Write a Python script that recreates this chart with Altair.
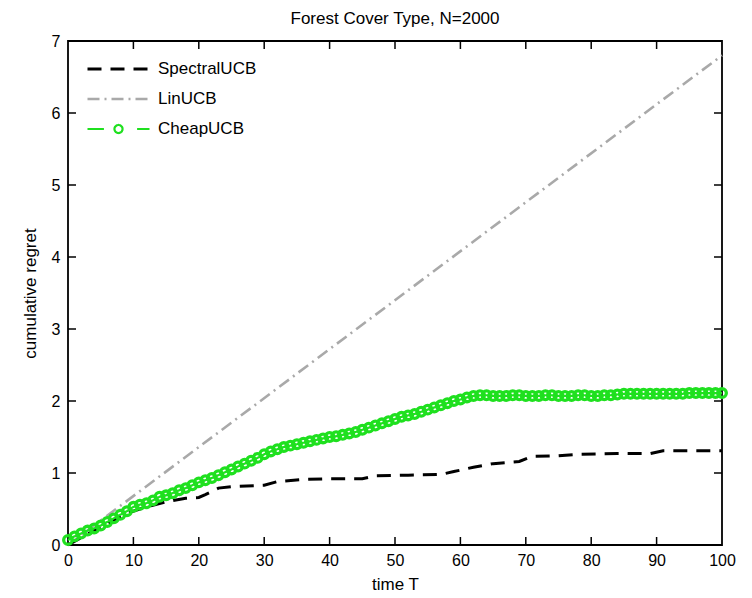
import altair as alt
import pandas as pd

# ---- data ----
series_names = ["SpectralUCB", "LinUCB", "CheapUCB"]

T_cheap = list(range(0, 101))
cheap = [0.07, 0.12, 0.16, 0.20, 0.23, 0.27, 0.32, 0.37, 0.42, 0.47,
         0.53, 0.56, 0.58, 0.62, 0.67, 0.69, 0.72, 0.76, 0.79, 0.83,
         0.87, 0.90, 0.93, 0.97, 1.01, 1.05, 1.09, 1.13, 1.17, 1.21,
         1.26, 1.30, 1.33, 1.36, 1.38, 1.40, 1.42, 1.44, 1.46, 1.48,
         1.50, 1.51, 1.53, 1.55, 1.57, 1.60, 1.63, 1.66, 1.69, 1.72,
         1.75, 1.78, 1.80, 1.82, 1.85, 1.88, 1.91, 1.94, 1.97, 2.00,
         2.02, 2.05, 2.07, 2.08, 2.08, 2.07, 2.07, 2.07, 2.08, 2.08,
         2.07, 2.07, 2.07, 2.08, 2.08, 2.07, 2.07, 2.07, 2.08, 2.08,
         2.07, 2.07, 2.08, 2.08, 2.09, 2.10, 2.10, 2.10, 2.10, 2.10,
         2.10, 2.10, 2.10, 2.10, 2.10, 2.11, 2.11, 2.11, 2.11, 2.11,
         2.11]

T_spec = [0, 5, 9, 12, 15, 18, 20, 21, 23, 25, 30, 32, 36, 40, 45, 47,
          52, 57, 59, 62, 65, 69, 71, 75, 78, 84, 89, 91, 100]
spec = [0.0, 0.25, 0.44, 0.53, 0.60, 0.65, 0.66, 0.70, 0.79, 0.81, 0.83,
        0.88, 0.91, 0.92, 0.92, 0.96, 0.97, 0.98, 1.02, 1.08, 1.13, 1.16,
        1.23, 1.24, 1.26, 1.27, 1.27, 1.31, 1.31]

T_lin = [0, 100]
lin = [0.0, 6.8]

x_ticks = [0, 10, 20, 30, 40, 50, 60, 70, 80, 90, 100]
y_ticks = [0, 1, 2, 3, 4, 5, 6, 7]

# ---- styles ----
colors = ["#000000", "#a9a9a9", "#1fe01f"]
dashes = [[14, 9], [12, 5, 2, 5], [1, 0]]
widths = [3, 2.2, 3]
W, H = 654, 504
FONT = "Liberation Sans"
CHEAP_SYMBOL = ("M-1,0L-0.47,0M0.6,0L1,0"
                "M-0.13,0A0.13,0.13,0,1,0,0.13,0A0.13,0.13,0,1,0,-0.13,0")
shapes = ["stroke", "stroke", CHEAP_SYMBOL]

lines_df = pd.concat([
    pd.DataFrame({"T": T_lin, "regret": lin, "series": "LinUCB", "ord": 0}),
    pd.DataFrame({"T": T_spec, "regret": spec, "series": "SpectralUCB", "ord": 1}),
    pd.DataFrame({"T": T_cheap, "regret": cheap, "series": "CheapUCB", "ord": 2}),
], ignore_index=True)
cheap_df = pd.DataFrame({"T": T_cheap, "regret": cheap})

x_enc = alt.X("T:Q", scale=alt.Scale(domain=[0, 100], nice=False, zero=False),
              axis=alt.Axis(values=x_ticks, title="time T", ticks=False, domain=False,
                            grid=False, labelPadding=7, titlePadding=8,
                            labelFontSize=16, titleFontSize=17, titleFontWeight="normal",
                            labelColor="black", titleColor="black", labelFlush=False))
y_enc = alt.Y("regret:Q", scale=alt.Scale(domain=[0, 7], nice=False, zero=False),
              axis=alt.Axis(values=y_ticks, title="cumulative regret", ticks=False, domain=False,
                            grid=False, labelPadding=8, titlePadding=12,
                            labelFontSize=16, titleFontSize=17, titleFontWeight="normal",
                            labelColor="black", titleColor="black", labelFlush=False))

leg = alt.Legend(title=None)
color_enc = alt.Color("series:N", scale=alt.Scale(domain=series_names, range=colors), legend=leg)

lines = alt.Chart(lines_df).mark_line(clip=False).encode(
    x=x_enc, y=y_enc,
    color=color_enc,
    strokeDash=alt.StrokeDash("series:N", scale=alt.Scale(domain=series_names, range=dashes),
                              legend=leg),
    strokeWidth=alt.StrokeWidth("series:N", scale=alt.Scale(domain=series_names, range=widths),
                                legend=leg),
    order="ord:Q",
    detail="ord:Q",
)

# legend-only layer (no rows drawn): gives the CheapUCB entry its dash-circle-dash symbol
legend_layer = alt.Chart(lines_df).mark_point(filled=False, opacity=1, strokeWidth=3).encode(
    x=x_enc, y=y_enc, color=color_enc,
    shape=alt.Shape("series:N", scale=alt.Scale(domain=series_names, range=shapes), legend=leg),
).transform_filter("false")

points = alt.Chart(cheap_df).mark_point(shape="circle", filled=False, size=75,
                                         strokeWidth=3.3, color="#1fe01f", opacity=1,
                                         clip=False).encode(x=x_enc, y=y_enc)

xt_df = pd.DataFrame({"T": x_ticks[1:-1]})
yt_df = pd.DataFrame({"regret": y_ticks[1:-1]})
tick_style = dict(color="black", strokeWidth=1.5)
xb = alt.Chart(xt_df).mark_rule(**tick_style).encode(x=x_enc, y=alt.value(H), y2=alt.value(H - 8))
xtp = alt.Chart(xt_df).mark_rule(**tick_style).encode(x=x_enc, y=alt.value(0), y2=alt.value(8))
yl = alt.Chart(yt_df).mark_rule(**tick_style).encode(y=y_enc, x=alt.value(0), x2=alt.value(8))
yr = alt.Chart(yt_df).mark_rule(**tick_style).encode(y=y_enc, x=alt.value(W), x2=alt.value(W - 8))

chart = alt.layer(xb, xtp, yl, yr, lines, legend_layer, points).properties(
    width=W, height=H,
    title=alt.TitleParams("Forest Cover Type, N=2000", fontSize=17, fontWeight="normal",
                          font=FONT, color="black", offset=5),
    autosize=alt.AutoSizeParams(type="none"),
    padding={"left": 60, "top": 33, "right": 22, "bottom": 52},
).configure(font=FONT).configure_view(
    stroke="black", strokeWidth=1.8
).configure_legend(
    orient="none", legendX=18, legendY=13, padding=0,
    symbolType="stroke", symbolSize=3844, symbolStrokeWidth=3, symbolOpacity=1,
    clipHeight=30, rowPadding=0, labelFontSize=17, labelFont=FONT,
    labelColor="black", labelOffset=7,
)

chart.save("out.html", embed_options={"renderer": "svg", "actions": False})
